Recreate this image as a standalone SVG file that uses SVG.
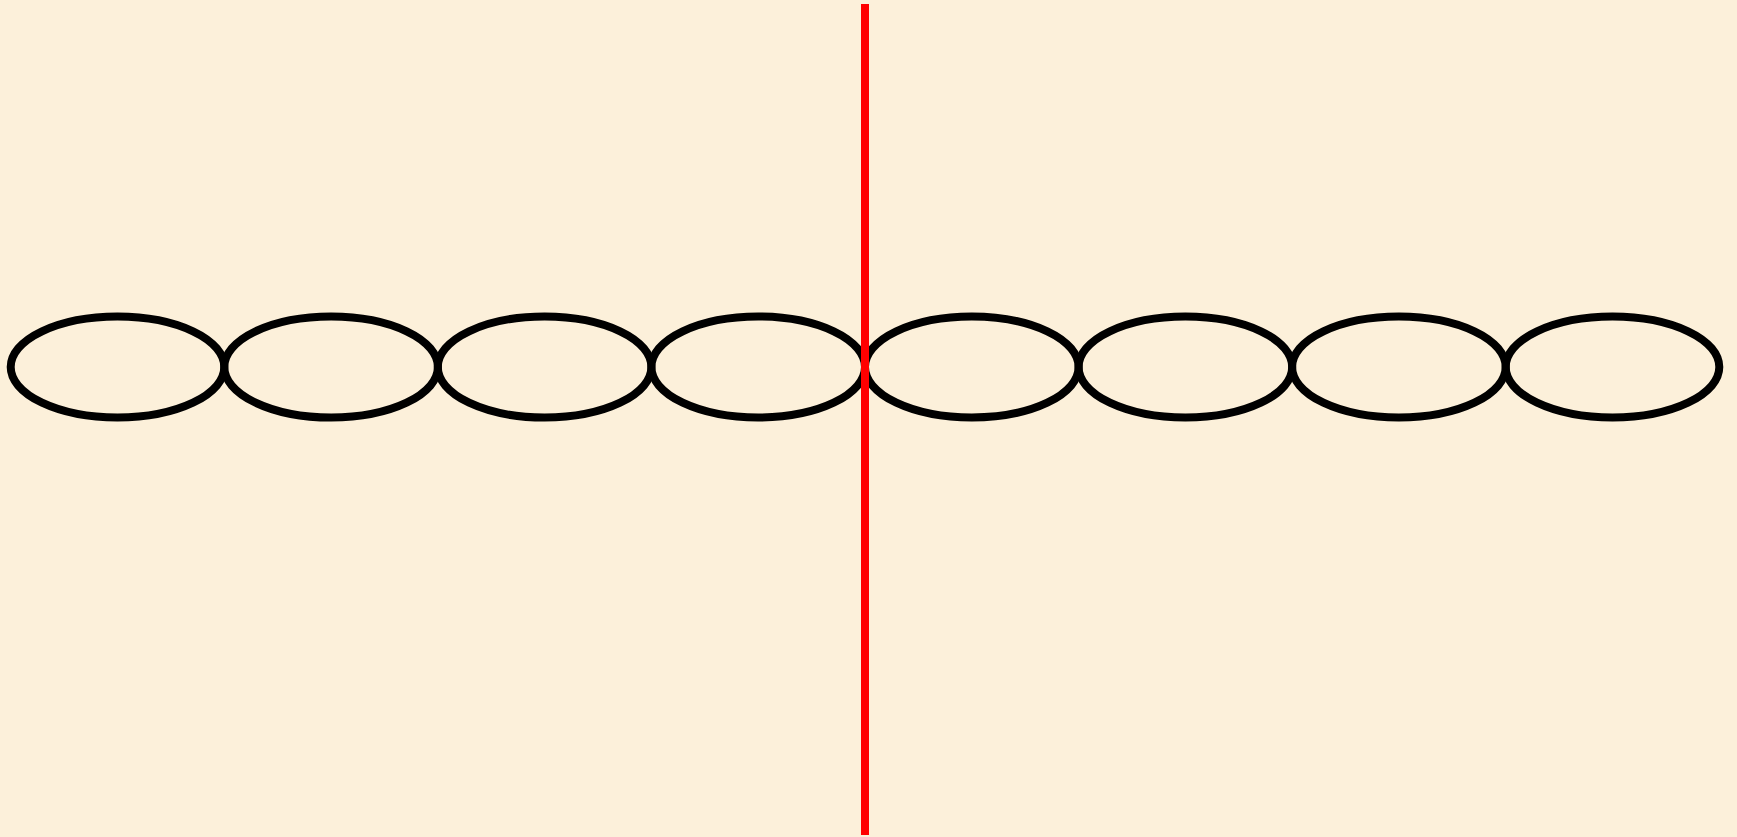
<svg xmlns="http://www.w3.org/2000/svg" width="1737" height="837" viewBox="0 0 1737 837">
<style>
.link{fill:none;stroke:#000;stroke-width:8}
.axis{stroke:#ff0000;stroke-width:8}
</style>
<rect x="0" y="0" width="1737" height="837" fill="#fcf0da"/>
<g id="chain">
<g id="link1"><ellipse class="link" cx="117.5" cy="367" rx="106.8" ry="50.5"/></g>
<g id="link2"><ellipse class="link" cx="331.1" cy="367" rx="106.8" ry="50.5"/></g>
<g id="link3"><ellipse class="link" cx="544.6" cy="367" rx="106.8" ry="50.5"/></g>
<g id="link4"><ellipse class="link" cx="758.2" cy="367" rx="106.8" ry="50.5"/></g>
<g id="link5"><ellipse class="link" cx="971.8" cy="367" rx="106.8" ry="50.5"/></g>
<g id="link6"><ellipse class="link" cx="1185.4" cy="367" rx="106.8" ry="50.5"/></g>
<g id="link7"><ellipse class="link" cx="1398.9" cy="367" rx="106.8" ry="50.5"/></g>
<g id="link8"><ellipse class="link" cx="1612.5" cy="367" rx="106.8" ry="50.5"/></g>
</g>
<g id="connectors">
<line class="axis" x1="865" y1="4" x2="865" y2="835"/>
</g>
</svg>
